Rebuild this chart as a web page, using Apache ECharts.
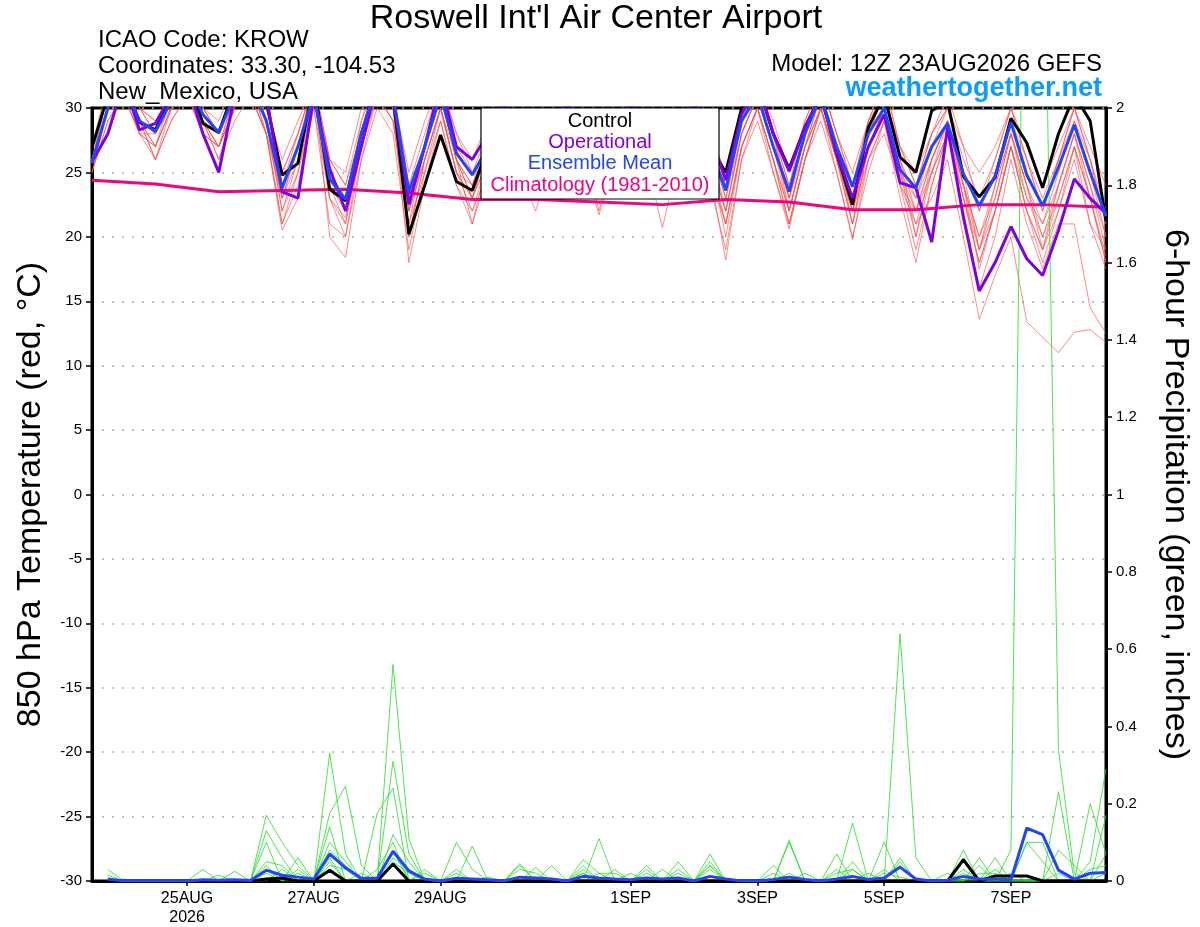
<!DOCTYPE html>
<html><head><meta charset="utf-8">
<script src="https://cdn.jsdelivr.net/npm/echarts@6/dist/echarts.min.js"></script>
<style>html,body{margin:0;padding:0;background:#fff}#c{width:1200px;height:927px}</style>
</head><body><div id="c"></div>
<script>
// ---- axis: 6-hourly steps from 23AUG2026 12Z (65 steps) ----
const stepHours = 6, nSteps = 65;
const tickIndex = [6, 14, 22, 34, 42, 50, 58];
const tickLabels = ['25AUG\n2026', '27AUG', '29AUG', '1SEP', '3SEP', '5SEP', '7SEP'];

// ---- 850 hPa temperature (°C) ----
const tempControl = [26.9,31,32,28.9, 28.3,31,32.5,28.8, 28.1,31.5,32,30.5, 24.8,25.7,32,23.7, 22.8,28,32,31, 20.2,24,27.9,24.3, 23.6,27,30,27, 24.5,27,30,27, 25,27.5,30,27, 25,27.5,30,27, 25,30,32,28, 25.3,28.5,31,26.5, 22.5,28.5,31,26.2, 25,29.8,30.5,24.7, 23.1,24.6,29.2,27.3, 23.8,28,31,29, 21.2];
const tempOperational = [25.8,28,32,28.3, 28.8,31,32,28, 25,31,32,31, 23.5,23,31,25.3, 22,27,32,31, 22.5,27,32,27, 26,28,30.5,28, 26,28,30.5,28, 26,28,30.5,28, 26,28,30.5,28, 24.4,29.5,32,28, 25.1,28.5,31,26.5, 23,27,29.5,24.2, 23.8,19.6,28.5,21.5, 15.8,18,20.8,18.3, 17,20.5,24.5,23, 21.8];
const tempMean = [25.7,30,32,29, 28.2,30.5,32,29.5, 28.1,31,32,29, 23.8,27,31,24.5, 22.9,28,32,31, 23.5,27,31,26.5, 24.8,27,29.5,27, 25.5,27.5,29.5,27, 25.5,27.5,29.5,27, 25.5,27.5,29.5,27, 23.6,29,31,27, 23.5,28,31,27, 23.9,28,30,25.2, 23.8,27,28.8,24.9, 22.4,24.7,28.9,24.8, 22.4,25.4,28.7,25, 21.6];
const climIndex = [0,4,8,12,16,20,24,28,32,36,40,44,48,52,56,60,64];
const climTemp = [24.4,24.1,23.5,23.6,23.7,23.4,22.9,22.9,22.7,22.5,22.9,22.7,22.1,22.1,22.5,22.5,22.3];

const tempM1 = [27,32,33,30, 29,31,33,30, 29,32,33,30, 26,29,32,26, 25,30,33,31, 25,29,32,28, 26,29,31,28, 26,29,31,28, 25,29,31,28, 26,29,31,28, 25,30,32,29, 25,29,32,28, 25,29,31,27, 25,28,30,27, 25,27,30,27, 24,27,30,27, 24];
const tempM2 = [25,29,31,28, 27,30,32,28, 27,30,32,28, 21,24,30,21, 20,27,31,29, 21,25,30,25, 23,26,29,26, 24,27,30,27, 22,27,29,26, 23,27,30,26, 21,27,30,26, 21,26,30,26, 21,26,29,24, 22,25,28,23, 19,22,27,23, 20,23,27,23, 18];
const tempM3 = [26,30,32,29, 26,30,32,29, 26,29,31,28, 20.5,23,32,20, 18.4,26,31,30, 18,24,29,24, 22,25,28,25, 22,26,29,26, 21.7,26,29,26, 20.7,26,29,25, 18.2,26,30,25, 20.6,26,30,25, 19.8,26,29,23, 18,24,28,22, 16,20,26,21, 17.5,21,21,14.5, 12.5];
const tempM4 = [26,30,32,29, 28,31,32,29, 28,31,32,29, 24,27,31,25, 23,28,32,30, 24,27,31,27, 25,27,29,27, 25,28,30,27, 24,27,30,27, 24,28,30,27, 23,28,31,27, 23,27,30,26, 22,26,28,24, 21,23,26,20, 13.6,17,20,13.4, 12.2,11,12.6,12.8, 11.8];
const tempM5 = [27,31,33,30, 28,30,31,29, 27,30,31,29, 22,26,31,23, 21.5,27,32,30, 22,26,30,26, 21,26,30,27, 24,27,30,27, 23,27,30,26, 24,28,30,26, 22,28,31,28, 22,27,31,27, 21,27,30,25, 20,26,29,24, 19,24,28,24, 21,25,29,25, 20];
const tempM6 = [25,29,31,28, 27,30,32,30, 28,31,33,30, 25,28,32,25, 22,29,32,31, 20,26,30,25, 24,27,30,27, 25,28,31,28, 24,28,31,27, 24,28,31,27, 24,29,32,28, 24,28,31,27, 23,28,31,26, 23,27,30,25, 22,25,29,26, 22,26,29,26, 21];
const tempM7 = [26,31,32,29, 26,29,31,28, 27,31,32,28, 23,26,31,24, 21,28,31,30, 22,26,30,25, 23,26,29,26, 23,27,29,26, 23,27,29,25, 23.5,26,29,26, 20,27,30,26, 22,27,30,26, 22,28,31,26, 20,25,29,23, 18,22,27,22, 18,22,27,21, 19];
const tempM8 = [27,31,32,30, 29,31,33,30, 28,31,32,29, 24,28,32,26, 24,28,32,30, 21,27,31,26, 24,28,30,27, 25,28,30,27, 25,28,31,28, 25,28,31,27, 23,29,32,28, 23,28,32,28, 24,29,32,27, 24,28,30,26, 23,26,30,26, 23,26,30,26, 22];
const tempM9 = [26,30,32,29, 27,30,32,29, 26,30,32,29, 22,25,31,23, 21,27,31,29, 23,27,31,26, 24,27,29,26, 24,27,29,26, 24,27,29,26, 23,27,29,25, 21,27,30,26, 21,26,30,26, 22,27,30,25, 23,26,29,24, 20,24,28,23, 21,24,28,24, 20];
const tempM10 = [25,30,32,28, 28,31,32,29, 28,31,32,29, 23,27,32,25, 23,28,32,31, 22,27,31,26, 23,27,30,27, 24,28,30,27, 24,28,30,27, 23,27,30,27, 22,28,31,27, 23,28,31,27, 23,28,30,26, 22,26,29,25, 19,23,28,24, 19,24,28,24, 19];
const tempM11 = [27,31,32,29, 28,31,32,29, 27,30,31,28, 24,27,31,24, 22,28,31,29, 20,26,30,25, 22,26,29,26, 23.5,27,29,26, 23,26,29,25, 23,26,29,25, 21,27,30,26, 22,27,30,26, 21,27,30,25, 21,25,28,24, 17.5,22,27,22, 19,23,27,23, 18.5];
const tempM12 = [26,31,33,30, 28,31,33,30, 28,31,33,30, 25,28,32,26, 24,29,33,31, 24,28,32,28, 25,28,31,28, 25,28,31,28, 25,29,31,28, 25,29,31,28, 24,29,32,28, 24,29,32,28, 24,29,32,27, 24,28,31,27, 22,26,30,26, 22,26,30,26, 21];
const tempM13 = [26,30,31,28, 26,29,31,28, 27,30,31,28, 21,25,30,23, 20,26,30,28, 19,25,29,24, 21,25,28,25, 23.5,26,29,25, 23.5,26,28,25, 23,25,28,24, 19,26,29,25, 21,26,29,25, 20,25,29,24, 19,24,28,23, 18,22,27,22, 19,22,26,21, 17.5];
const tempM14 = [26,30,32,29, 27,31,32,29, 27,31,32,29, 23,27,32,25, 22,27,32,30, 23,27,31,26, 23,27,30,26, 24,27,30,27, 23,27,30,26, 24,27,30,26, 22,28,31,27, 22,27,31,27, 22,27,30,25, 22,26,29,24, 20,23,28,24, 20,24,28,23, 18];

// ---- 6-hour precipitation (inches) ----
const precipControl = [null,0,0,0,0,0,0,0, 0,0,0,0.005,0.008,0,0,0.028, 0,0,0,0.044,0,0,0,0, 0,0,0,0,0,0,0,0, 0,0,0,0,0,0,0,0, 0,0,0,0,0,0,0,0, 0,0,0,0,0,0,0,0.055, 0,0.013,0.013,0.013,0,0,0,0, 0];
const precipMean = [null,0.005,0,0,0,0,0,0.003, 0.002,0.003,0.001,0.028,0.015,0.01,0.005,0.07, 0.034,0.007,0.007,0.077,0.026,0.005,0,0.007, 0.005,0.003,0,0.01,0.008,0.005,0,0.012, 0.008,0.005,0.003,0.008,0.005,0.008,0,0.012, 0.005,0,0,0.004,0.01,0.004,0,0.005, 0.012,0.004,0.008,0.036,0.005,0,0.002,0.012, 0.005,0.005,0.003,0.137,0.12,0.028,0.005,0.02, 0.022];
const precipM1 = [null,.03,0,0,0,0,0,0, 0,0,0,.17,.1,.04,0,.33, .07,0,0,.56,.11,0,0,.1, .03,0,0,0,0,0,0,.055, .02,0,0,0,0,0,0,.07, 0,0,0,0,.105,0,0,0, .15,0,0,.06,0,0,0,.08, 0,0,0,.1,.05,0,0,.2, .07];
const precipM2 = [null,.015,0,0,0,0,0,.03, 0,0,0,.13,.06,0,0,.175, .245,.04,0,.31,.07,0,0,.03, 0,0,0,.045,0,0,0,0, .11,0,0,.04,0,0,0,0, 0,0,0,.04,0,0,0,.07, 0,0,0,.64,.06,0,0,0, .06,0,.08,3.1,2.75,.34,.02,0, 0];
const precipM3 = [null,0,0,0,0,0,0,0, 0,.025,0,.1,0,.06,0,.14, 0,0,.175,.24,0,.03,0,0, .09,0,0,0,.035,0,0,.04, 0,0,0,0,0,.05,0,.05, 0,0,0,0,.1,0,0,0, .05,0,.1,0,0,0,0,.06, 0,.06,0,0,0,.23,0,.05, .29];
const precipM4 = [null,0,0,0,0,0,0,0, .015,0,0,.05,.04,0,0,.1, .05,0,0,.12,.05,0,0,0, 0,0,0,.04,0,.04,0,0, 0,.03,0,0,.03,0,0,.04, 0,0,0,0,0,0,0,.03, 0,0,.03,0,0,0,0,.03, 0,.03,0,0,0,0,0,0, .17];
const precipM5 = [null,0,0,0,0,0,0,0, 0,0,0,.04,0,.03,0,.08, .04,0,.03,.1,0,.02,0,0, 0,.01,0,0,0,0,0,.03, 0,0,0,.03,0,0,0,0, 0,0,0,.02,0,0,0,0, .03,0,0,.05,0,0,0,0, .04,0,.02,0,0,.08,.04,0, 0];
const precipM6 = [null,0,.005,0,0,0,0,0, 0,0,0,.02,0,0,0,.06, 0,.02,0,.08,0,0,0,0, 0,0,0,.03,.02,0,0,.02, 0,0,.02,0,0,.03,0,.03, 0,0,0,0,0,.02,0,0, 0,.02,0,0,0,0,.02,0, 0,0,0,.1,.1,0,0,0, .07];
const precipM7 = [null,0,0,0,0,0,0,0, 0,0,0,0,.03,0,0,.05, 0,0,0,.06,.03,0,0,.02, 0,0,0,0,0,0,0,0, .02,.02,0,0,0,0,0,.04, 0,0,0,0,.02,0,0,.02, .03,0,0,0,0,0,0,.02, 0,0,0,0,0,0,0,.03, .04];
const precipM8 = [null,0,0,0,0,0,0,0, 0,0,0,.03,0,.02,0,.04, .03,0,0,.05,.02,0,0,0, 0,0,0,0,0,0,0,.02, 0,0,0,.02,0,.02,0,0, 0,0,0,0,.01,0,0,0, 0,0,.02,.01,0,0,0,0, .02,.02,0,0,0,.02,0,0, .02];

const tempMembers = [tempM1,tempM2,tempM3,tempM4,tempM5,tempM6,tempM7,tempM8,tempM9,tempM10,tempM11,tempM12,tempM13,tempM14];
const precipMembers = [precipM1,precipM2,precipM3,precipM4,precipM5,precipM6,precipM7,precipM8];

const hours = [];
for (let i = 0; i < nSteps; i++) hours.push(String(i * stepHours));

const FONT = "'Liberation Sans', Arial, Helvetica, sans-serif";
const C_BLACK = '#000000', C_PURPLE = '#8000e6', C_BLUE = '#2244ff', C_PINK = '#f0047f';
const showTick = (idx) => tickIndex.indexOf(idx) >= 0;

const series = [];
tempMembers.forEach((m, k) => series.push({
  name: 'Temp member ' + (k + 1), type: 'line', yAxisIndex: 0, data: m,
  symbol: 'none', silent: true, z: 1,
  lineStyle: { color: '#ff4a4a', width: 0.8, opacity: 0.8 }
}));
precipMembers.forEach((m, k) => series.push({
  name: 'Precip member ' + (k + 1), type: 'line', yAxisIndex: 1, data: m,
  symbol: 'none', silent: true, z: 1,
  lineStyle: { color: '#22dd22', width: 0.8 }
}));
series.push({
  name: 'Climatology (1981-2010)', type: 'line', yAxisIndex: 0,
  data: climIndex.map((ix, k) => [ix, climTemp[k]]),
  symbol: 'none', silent: true, z: 3, lineStyle: { color: C_PINK, width: 3 }
});
series.push({ name: 'Control', type: 'line', yAxisIndex: 0, data: tempControl, symbol: 'none', silent: true, z: 4, lineStyle: { color: C_BLACK, width: 3 } });
series.push({ name: 'Operational', type: 'line', yAxisIndex: 0, data: tempOperational, symbol: 'none', silent: true, z: 4, lineStyle: { color: C_PURPLE, width: 3 } });
series.push({ name: 'Ensemble Mean', type: 'line', yAxisIndex: 0, data: tempMean, symbol: 'none', silent: true, z: 5, lineStyle: { color: C_BLUE, width: 3 } });
series.push({ name: 'Control precip', type: 'line', yAxisIndex: 1, data: precipControl, symbol: 'none', silent: true, z: 4, lineStyle: { color: C_BLACK, width: 3 } });
series.push({ name: 'Mean precip', type: 'line', yAxisIndex: 1, data: precipMean, symbol: 'none', silent: true, z: 5, lineStyle: { color: C_BLUE, width: 3 } });

const txt = (text, x, y, size, color, align, weight) => ({
  type: 'text', x: x, y: y, z: 100,
  style: { text: text, fill: color, fontSize: size, fontFamily: FONT, fontWeight: weight || 'normal',
           textAlign: align, textVerticalAlign: 'middle' }
});

const option = {
  animation: false,
  backgroundColor: '#ffffff',
  textStyle: { fontFamily: FONT },
  grid: { left: 92, right: 93, top: 108, bottom: 44, show: true, borderColor: '#000', borderWidth: 3, backgroundColor: 'transparent' },
  xAxis: {
    type: 'category', data: hours, boundaryGap: false,
    axisLine: { onZero: false, lineStyle: { color: '#000', width: 3 } },
    axisTick: { show: true, interval: (idx) => showTick(idx), length: 5, lineStyle: { color: '#000', width: 1.5 } },
    axisLabel: { interval: (idx) => showTick(idx), color: '#000', fontSize: 16, fontFamily: FONT, margin: 8, lineHeight: 19,
                 formatter: (v, idx) => { const k = tickIndex.indexOf(idx); return k >= 0 ? tickLabels[k] : ''; } },
    splitLine: { show: false }
  },
  yAxis: [
    { type: 'value', min: -30, max: 30, interval: 5, position: 'left',
      name: '850 hPa Temperature (red, °C)', nameLocation: 'middle', nameGap: 44, nameRotate: 90,
      nameTextStyle: { fontSize: 34, color: '#000', fontFamily: FONT },
      axisLine: { show: true, onZero: false, lineStyle: { color: '#000', width: 3 } },
      axisTick: { show: true, length: 6, lineStyle: { color: '#000', width: 1.5 } },
      axisLabel: { color: '#000', fontSize: 15, fontFamily: FONT, margin: 10 },
      splitLine: { show: true, lineStyle: { color: '#aaaaaa', type: [2, 8], width: 1.5 } } },
    { type: 'value', min: 0, max: 2, interval: 0.2, position: 'right',
      name: '6-hour Precipitation (green, inches)', nameLocation: 'middle', nameGap: 52, nameRotate: -90,
      nameTextStyle: { fontSize: 34, color: '#000', fontFamily: FONT },
      axisLine: { show: true, onZero: false, lineStyle: { color: '#000', width: 3 } },
      axisTick: { show: true, length: 6, lineStyle: { color: '#000', width: 1.5 } },
      axisLabel: { color: '#000', fontSize: 15, fontFamily: FONT, margin: 10 },
      splitLine: { show: false } }
  ],
  graphic: [
    txt("Roswell Int'l Air Center Airport", 596, 19, 34, '#000', 'center'),
    txt('ICAO Code: KROW', 98, 40, 24, '#000', 'left'),
    txt('Coordinates: 33.30, -104.53', 98, 66, 24, '#000', 'left'),
    txt('New_Mexico, USA', 98, 92, 24, '#000', 'left'),
    txt('Model: 12Z 23AUG2026 GEFS', 1102, 64, 24, '#000', 'right'),
    txt('weathertogether.net', 1102, 89, 27, '#0a9cff', 'right', 'bold'),
    { type: 'rect', z: 99, shape: { x: 481, y: 108, width: 238, height: 91 },
      style: { fill: '#ffffff', stroke: '#000', lineWidth: 1.2 } },
    txt('Control', 600, 121, 20, C_BLACK, 'center'),
    txt('Operational', 600, 142, 20, C_PURPLE, 'center'),
    txt('Ensemble Mean', 600, 163, 20, C_BLUE, 'center'),
    txt('Climatology (1981-2010)', 600, 185, 20, C_PINK, 'center')
  ],
  series: series
};

const chart = echarts.init(document.getElementById('c'), null, { renderer: 'canvas', width: 1200, height: 927 });
chart.setOption(option);
</script></body></html>
